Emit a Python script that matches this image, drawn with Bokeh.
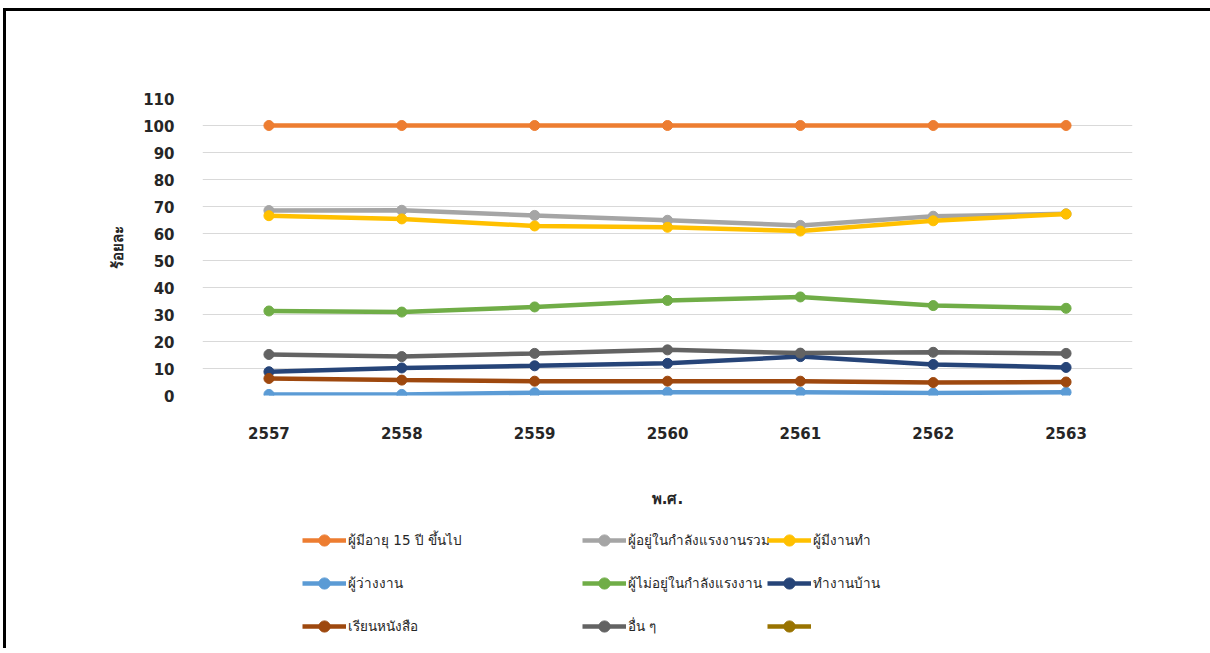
from bokeh.plotting import figure
from bokeh.models import Legend, LegendItem, FactorRange
from bokeh.layouts import column
from bokeh.embed import file_html
from bokeh.resources import INLINE

years = ["2557", "2558", "2559", "2560", "2561", "2562", "2563"]
age15 = [100, 100, 100, 100, 100, 100, 100]
labour = [68.5, 68.6, 66.7, 64.9, 63.0, 66.4, 67.3]
employed = [66.6, 65.4, 62.8, 62.3, 60.9, 64.7, 67.2]
unemployed = [0.4, 0.4, 1.0, 1.2, 1.2, 0.9, 1.2]
not_labour = [31.3, 30.9, 32.8, 35.2, 36.5, 33.3, 32.3]
housework = [8.8, 10.2, 11.0, 11.9, 14.4, 11.5, 10.4]
study = [6.3, 5.7, 5.3, 5.3, 5.3, 4.8, 5.0]
other = [15.2, 14.4, 15.6, 16.9, 15.7, 16.0, 15.6]
blank = [None, None, None, None, None, None, None]

series = [
    ("ผู้มีอายุ 15 ปี ขึ้นไป", age15, "#ED7D31"),
    ("ผู้อยู่ในกำลังแรงงานรวม", labour, "#A5A5A5"),
    ("ผู้มีงานทำ", employed, "#FFC000"),
    ("ผู้ว่างงาน", unemployed, "#5B9BD5"),
    ("ผู้ไม่อยู่ในกำลังแรงงาน", not_labour, "#70AD47"),
    ("ทำงานบ้าน", housework, "#264478"),
    ("เรียนหนังสือ", study, "#9E480E"),
    ("อื่น ๆ", other, "#636363"),
    (" ", blank, "#997300"),
]

FONT = "'DejaVu Sans', 'Noto Sans', sans-serif"
W = 1204
X0, Y0 = 6, 11  # canvas origin on the page
MAIN_H = 510
LEG_H = 127

def clean(vals):
    return [float("nan") if v is None else v for v in vals]

p = figure(width=W, height=MAIN_H, x_range=FactorRange(*years), y_range=(0, 110),
           output_backend="svg", toolbar_location=None,
           min_border_left=202 - X0, min_border_right=W - (1132 - X0),
           min_border_top=98 - Y0, min_border_bottom=MAIN_H - (98 - Y0) - 297)
p.outline_line_color = None
p.xgrid.grid_line_color = None
p.ygrid.grid_line_color = "#D9D9D9"
p.ygrid.grid_line_width = 1
p.yaxis.ticker = list(range(0, 111, 10))

for ax in (p.xaxis[0], p.yaxis[0]):
    ax.axis_line_color = None
    ax.major_tick_line_color = None
    ax.minor_tick_line_color = None
    ax.major_label_text_font = FONT
    ax.major_label_text_font_style = "bold"
    ax.major_label_text_font_size = "15px"
    ax.major_label_text_color = "#262626"
    ax.axis_label_text_font = FONT
    ax.axis_label_text_font_style = "bold"
    ax.axis_label_text_font_size = "15px"
    ax.axis_label_text_color = "#262626"

p.yaxis.axis_label = "ร้อยละ"
p.yaxis.major_label_standoff = 22
p.yaxis.axis_label_standoff = 13
p.xaxis.axis_label = "พ.ศ."
p.xaxis.major_label_standoff = 25
p.xaxis.axis_label_standoff = 48

for name, vals, col in series:
    ys = clean(vals)
    p.line(years, ys, line_color=col, line_width=4.5)
    p.scatter(years, ys, size=10, fill_color=col, line_color=col)

# legend strip (same series; its y range keeps the marks out of view)
p2 = figure(width=W, height=LEG_H, x_range=p.x_range, y_range=(1000, 1001),
            output_backend="svg", toolbar_location=None,
            x_axis_location=None, y_axis_location=None,
            min_border=0, min_border_left=202 - X0, min_border_right=W - (1132 - X0),
            min_border_top=0, min_border_bottom=0)
p2.outline_line_color = None
p2.grid.grid_line_color = None

items = []
for name, vals, col in series:
    ys = clean(vals)
    r1 = p2.line(years, ys, line_color=col, line_width=4.5)
    r2 = p2.scatter(years, ys, size=10, fill_color=col, line_color=col)
    items.append(LegendItem(label=name, renderers=[r1, r2]))

cols = [[items[0], items[3], items[6]], [items[1], items[4], items[7]], [items[2], items[5], items[8]]]
xs = [302 - 202, 582 - 202, 767 - 202]
leg_bottom = Y0 + MAIN_H + LEG_H - 640
for its, x in zip(cols, xs):
    lg = Legend(items=its, location=(x, leg_bottom), orientation="vertical",
                padding=0, margin=0, spacing=15, glyph_width=44, glyph_height=28,
                label_height=28, label_standoff=2, border_line_color=None,
                background_fill_alpha=0, label_text_font=FONT,
                label_text_font_size="13.5px", label_text_color="#262626")
    p2.add_layout(lg, "center")

layout = column(p, p2, spacing=0)
layout.styles = {"border-top": "3px solid black", "border-left": "3px solid black",
                 "margin-top": "8px", "margin-left": "3px"}

open("out.html", "w").write(file_html(layout, INLINE))
